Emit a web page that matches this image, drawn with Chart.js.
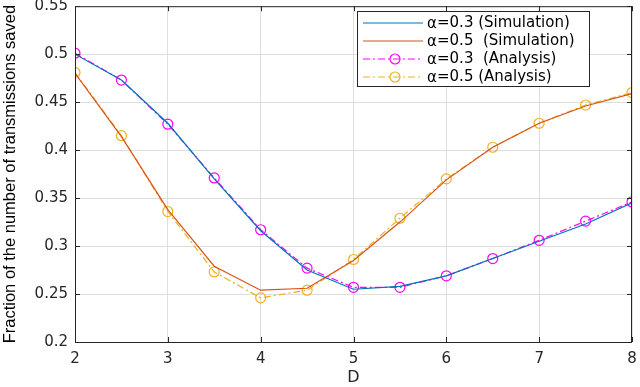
<!DOCTYPE html>
<html>
<head>
<meta charset="utf-8">
<script src="https://cdn.jsdelivr.net/npm/chart.js@4"></script>
<style>
  html, body { margin: 0; padding: 0; background: #fff; }
  #wrap { width: 640px; height: 387px; }
</style>
</head>
<body>
<div id="wrap"><canvas id="c" width="640" height="387"></canvas></div>
<script>
const dVals = [2, 2.5, 3, 3.5, 4, 4.5, 5, 5.5, 6, 6.5, 7, 7.5, 8];
const sim03 = [0.500, 0.473, 0.428, 0.370, 0.316, 0.275, 0.255, 0.258, 0.269, 0.287, 0.305, 0.323, 0.345];
const sim05 = [0.480, 0.414, 0.338, 0.279, 0.254, 0.256, 0.285, 0.325, 0.369, 0.403, 0.428, 0.446, 0.459];
const ana03 = [0.501, 0.473, 0.427, 0.371, 0.317, 0.277, 0.257, 0.257, 0.269, 0.287, 0.306, 0.326, 0.346];
const ana05 = [0.481, 0.415, 0.336, 0.273, 0.246, 0.254, 0.286, 0.329, 0.370, 0.403, 0.428, 0.447, 0.460];
const xTicks = [2, 3, 4, 5, 6, 7, 8];
const yTicks = [0.2, 0.25, 0.3, 0.35, 0.4, 0.45, 0.5, 0.55];
const legendNames = ["=0.3 (Simulation)", "=0.5  (Simulation)", "=0.3  (Analysis)", "=0.5 (Analysis)"];

const BLUE = "#0072BD", RED = "#D95319", MAG = "#FF00FF", YEL = "#EDB120";
const DASHDOT = [7, 3, 2, 3];
const pts = (ys) => dVals.map((x, i) => ({ x, y: ys[i] }));

// box on all four sides + inward ticks, like the matlab axes
const boxPlugin = {
  id: "box",
  afterDatasetsDraw(chart) {
    const { ctx, chartArea: a, scales } = chart;
    ctx.save();
    ctx.strokeStyle = "#262626";
    ctx.lineWidth = 1;
    ctx.strokeRect(a.left + 0.5, a.top + 0.5, a.right - a.left - 1, a.bottom - a.top);
    ctx.beginPath();
    xTicks.forEach(v => {
      const px = Math.round(scales.x.getPixelForValue(v)) + 0.5;
      ctx.moveTo(px, a.bottom); ctx.lineTo(px, a.bottom - 5);
      ctx.moveTo(px, a.top); ctx.lineTo(px, a.top + 5);
    });
    yTicks.forEach(v => {
      const py = Math.round(scales.y.getPixelForValue(v)) + 0.5;
      ctx.moveTo(a.left, py); ctx.lineTo(a.left + 5, py);
      ctx.moveTo(a.right, py); ctx.lineTo(a.right - 5, py);
    });
    ctx.stroke();
    ctx.restore();
  }
};

// legend box drawn by hand (top right, inside the axes)
const legendPlugin = {
  id: "boxLegend",
  afterDraw(chart) {
    const { ctx } = chart;
    const L = 357, T = 11, W = 232, H = 75;
    ctx.save();
    ctx.fillStyle = "#fff";
    ctx.fillRect(L, T, W, H);
    ctx.strokeStyle = "#262626";
    ctx.lineWidth = 1;
    ctx.strokeRect(L + 0.5, T + 0.5, W, H);
    const rows = [23, 41, 59, 77];
    chart.data.datasets.forEach((ds, i) => {
      const y = rows[i];
      ctx.strokeStyle = ds.borderColor;
      ctx.lineWidth = 1.2;
      ctx.setLineDash(ds.borderDash || []);
      ctx.beginPath(); ctx.moveTo(363, y); ctx.lineTo(423, y); ctx.stroke();
      ctx.setLineDash([]);
      if (ds.pointRadius > 0) {
        ctx.beginPath(); ctx.arc(395, y, 5, 0, Math.PI * 2); ctx.stroke();
      }
      ctx.fillStyle = "#000";
      ctx.textBaseline = "middle";
      ctx.font = "15px 'DejaVu Sans'";
      ctx.fillText("\u03b1", 427, y + 1);
      ctx.fillText(legendNames[i], 437, y);
    });
    ctx.restore();
  }
};

new Chart(document.getElementById("c"), {
  type: "line",
  data: {
    datasets: [
      { data: pts(sim03), borderColor: BLUE, borderWidth: 1.2, pointRadius: 0, order: 1 },
      { data: pts(sim05), borderColor: RED, borderWidth: 1.2, pointRadius: 0, order: 1 },
      { data: pts(ana03), borderColor: MAG, borderWidth: 1.2, borderDash: DASHDOT,
        pointRadius: 5, pointStyle: "circle", pointBackgroundColor: "rgba(0,0,0,0)", pointBorderColor: MAG, pointBorderWidth: 1.2, order: 2 },
      { data: pts(ana05), borderColor: YEL, borderWidth: 1.2, borderDash: DASHDOT,
        pointRadius: 5, pointStyle: "circle", pointBackgroundColor: "rgba(0,0,0,0)", pointBorderColor: YEL, pointBorderWidth: 1.2, order: 2 }
    ]
  },
  options: {
    responsive: false,
    animation: false,
    layout: { padding: { top: 5, right: 8, left: 0, bottom: 0 } },
    plugins: { legend: { display: false }, tooltip: { enabled: false } },
    scales: {
      x: {
        type: "linear", min: 2, max: 8,
        afterBuildTicks: (s) => { s.ticks = xTicks.map(v => ({ value: v })); },
        afterFit: (s) => { s.height = 45; s.paddingLeft = 0; s.paddingRight = 0; },
        grid: { color: "#dedede", drawTicks: false },
        border: { display: false },
        ticks: { color: "#262626", font: { family: "DejaVu Sans", size: 15 }, padding: 8 },
        title: { display: true, text: "D", color: "#262626", font: { family: "DejaVu Sans", size: 16 }, padding: { top: 0, bottom: 0 } }
      },
      y: {
        type: "linear", min: 0.2, max: 0.55,
        afterBuildTicks: (s) => { s.ticks = yTicks.map(v => ({ value: v })); },
        afterFit: (s) => { s.width = 75; s.paddingTop = 0; s.paddingBottom = 0; },
        grid: { color: "#dedede", drawTicks: false },
        border: { display: false },
        ticks: { color: "#262626", font: { family: "DejaVu Sans", size: 15 }, padding: 7,
          callback: (v) => String(+v.toFixed(2)) },
        title: { display: true, text: "Fraction of the number of transmissions saved", color: "#000",
          font: { family: "Liberation Sans", size: 16.5 }, padding: { top: 1, bottom: 0 } }
      }
    }
  },
  plugins: [boxPlugin, legendPlugin]
});
</script>
</body>
</html>
